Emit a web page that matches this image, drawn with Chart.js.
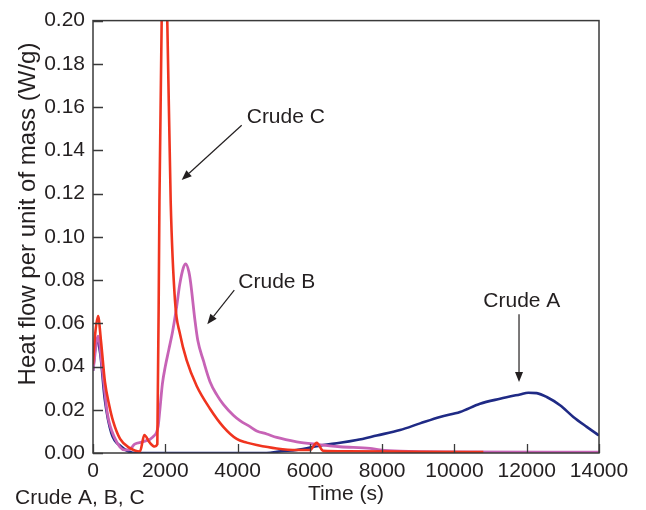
<!DOCTYPE html>
<html>
<head>
<meta charset="utf-8">
<script src="https://cdn.jsdelivr.net/npm/chart.js@4"></script>
<style>
  html, body { margin: 0; padding: 0; background: #fff; }
</style>
</head>
<body>
<canvas id="heat-chart" width="646" height="510"></canvas>
<script>
// Heat flow curves for the three crudes (time in s, heat flow in W/g)
const timeA = [0, 100, 200, 324, 507, 785, 1000, 1200, 4800, 5200, 5637, 6370, 6835, 7296, 7850, 8495, 9048, 9601, 10155, 10708, 11262, 11815, 12045, 12277, 12554, 12922, 13290, 13661, 14000];
const flowA = [0.038, 0.052, 0.046, 0.025, 0.0092, 0.0029, 0.0006, 0, 0, 0.0008, 0.0014, 0.0037, 0.0047, 0.006, 0.0081, 0.0106, 0.0137, 0.0167, 0.019, 0.0228, 0.0251, 0.0271, 0.0279, 0.0277, 0.0259, 0.0221, 0.0167, 0.0121, 0.0081];

const timeB = [0, 140, 250, 400, 600, 876, 1000, 1153, 1383, 1660, 1800, 1850, 1920, 2000, 2100, 2200, 2300, 2400, 2500, 2565, 2650, 2700, 2822, 2900, 3053, 3237, 3422, 3606, 3883, 4067, 4344, 4530, 4806, 5083, 5637, 6190, 6835, 7665, 7941, 8500, 10000, 14000];
const flowB = [0.038, 0.054, 0.04, 0.018, 0.007, 0.0014, 0.0015, 0.0041, 0.0052, 0.0075, 0.0121, 0.02, 0.032, 0.04, 0.048, 0.056, 0.066, 0.078, 0.0857, 0.0875, 0.084, 0.079, 0.0612, 0.052, 0.0428, 0.033, 0.027, 0.0225, 0.0175, 0.015, 0.0122, 0.0102, 0.0088, 0.0072, 0.0052, 0.004, 0.0029, 0.0021, 0.0014, 0.0008, 0.0005, 0.0004];

const timeC = [0, 60, 140, 220, 330, 450, 560, 750, 1000, 1300, 1420, 1560, 1707, 1780, 1838, 1900, 1975, 2055, 2150, 2269, 2407, 2592, 2869, 3237, 3606, 3976, 4253, 4530, 5083, 5637, 6005, 6190, 6370, 7000, 9000, 10800];
const flowC = [0.041, 0.055, 0.0634, 0.052, 0.033, 0.022, 0.0145, 0.0065, 0.0025, 0.0007, 0.0083, 0.005, 0.003, 0.004, 0.116, 0.2, 0.245, 0.2, 0.116, 0.0703, 0.055, 0.0428, 0.031, 0.0205, 0.0121, 0.0065, 0.0048, 0.0037, 0.0021, 0.0014, 0.0014, 0.0047, 0.001, 0.0008, 0.0006, 0.0004];

const xTicks = [0, 2000, 4000, 6000, 8000, 10000, 12000, 14000];
const yTicks = [0, 0.02, 0.04, 0.06, 0.08, 0.10, 0.12, 0.14, 0.16, 0.18, 0.20];

const ink = '#231f20';
const fontFamily = '"Liberation Sans", Arial, Helvetica, sans-serif';

// labels with arrows, placed in data units
const notes = [
    { text: 'Crude C', tx: 4253, ty: 0.1526, from: [4114, 0.1516], to: [2454, 0.1263] },
    { text: 'Crude B', tx: 4020, ty: 0.0765, from: [3909, 0.0753], to: [3162, 0.0596] },
    { text: 'Crude A', tx: 10799, ty: 0.0673, from: [11787, 0.0642], to: [11787, 0.0328] }
];

function toPoints(xs, ys) {
    return xs.map((x, i) => ({ x: x, y: ys[i] }));
}

function arrow(ctx, x1, y1, x2, y2) {
    const ang = Math.atan2(y2 - y1, x2 - x1);
    const len = 10, half = 4;
    const bx = x2 - len * Math.cos(ang), by = y2 - len * Math.sin(ang);
    ctx.beginPath();
    ctx.moveTo(x1, y1);
    ctx.lineTo(bx, by);
    ctx.stroke();
    ctx.beginPath();
    ctx.moveTo(x2, y2);
    ctx.lineTo(bx + half * Math.sin(ang), by - half * Math.cos(ang));
    ctx.lineTo(bx - half * Math.sin(ang), by + half * Math.cos(ang));
    ctx.closePath();
    ctx.fill();
}

// frame, inward tick marks, y title, arrows and the footnote
const framePlugin = {
    id: 'frame',
    afterDatasetsDraw(chart) {
        const ctx = chart.ctx;
        const area = chart.chartArea;
        const xs = chart.scales.x, ys = chart.scales.y;
        ctx.save();
        ctx.strokeStyle = '#3a3a3a';
        ctx.lineWidth = 1.5;
        ctx.strokeRect(area.left, area.top, area.right - area.left, area.bottom - area.top);

        ctx.lineWidth = 1.3;
        ctx.beginPath();
        xs.ticks.forEach(t => {
            const px = Math.round(xs.getPixelForValue(t.value)) + 0.5;
            ctx.moveTo(px, area.bottom);
            ctx.lineTo(px, area.bottom - 9);
        });
        ys.ticks.forEach(t => {
            const py = Math.round(ys.getPixelForValue(t.value)) + 0.5;
            ctx.moveTo(area.left, py);
            ctx.lineTo(area.left + 10, py);
        });
        ctx.stroke();

        ctx.fillStyle = ink;
        ctx.strokeStyle = ink;

        // y axis title sits a little above the middle of the axis
        ctx.save();
        ctx.translate(28, 214);
        ctx.rotate(-Math.PI / 2);
        ctx.font = '24px ' + fontFamily;
        ctx.textAlign = 'center';
        ctx.textBaseline = 'middle';
        ctx.fillText('Heat flow per unit of mass (W/g)', 0, 0);
        ctx.restore();

        ctx.lineWidth = 1.2;
        ctx.font = '21px ' + fontFamily;
        ctx.textBaseline = 'alphabetic';
        ctx.textAlign = 'left';
        notes.forEach(n => {
            ctx.fillText(n.text, xs.getPixelForValue(n.tx), ys.getPixelForValue(n.ty));
            arrow(ctx,
                xs.getPixelForValue(n.from[0]), ys.getPixelForValue(n.from[1]),
                xs.getPixelForValue(n.to[0]), ys.getPixelForValue(n.to[1]));
        });

        ctx.fillText('Crude A, B, C', 15, 504);
        ctx.restore();
    }
};

const ctx = document.querySelector('#heat-chart').getContext('2d');

const heatChart = new Chart(ctx, {
    type: 'line',
    data: {
        datasets: [{
            label: 'Crude C',
            data: toPoints(timeC, flowC),
            borderColor: '#f0341f',
            borderWidth: 2.6,
            order: 0
        }, {
            label: 'Crude B',
            data: toPoints(timeB, flowB),
            borderColor: '#c763b6',
            borderWidth: 2.8,
            order: 1
        }, {
            label: 'Crude A',
            data: toPoints(timeA, flowA),
            borderColor: '#1f2a85',
            borderWidth: 2.6,
            order: 2
        }]
    },
    options: {
        responsive: false,
        animation: false,
        layout: { padding: { top: 18, right: 47, left: 0, bottom: 0 } },
        elements: {
            point: { radius: 0 },
            line: { cubicInterpolationMode: 'monotone', fill: false }
        },
        plugins: {
            legend: { display: false },
            tooltip: { enabled: false }
        },
        scales: {
            x: {
                type: 'linear',
                min: 0,
                max: 14000,
                afterBuildTicks: axis => { axis.ticks = xTicks.map(v => ({ value: v })); },
                afterFit: axis => { axis.height = 57; },
                ticks: {
                    color: ink,
                    font: { family: fontFamily, size: 21 },
                    padding: 6,
                    maxRotation: 0,
                    callback: v => String(v)
                },
                grid: { drawOnChartArea: false, drawTicks: false },
                border: { display: false },
                title: {
                    display: true,
                    text: 'Time (s)',
                    color: ink,
                    font: { family: fontFamily, size: 21 },
                    padding: { top: 0, bottom: 3 }
                }
            },
            y: {
                min: 0,
                max: 0.2,
                afterBuildTicks: axis => { axis.ticks = yTicks.map(v => ({ value: v })); },
                afterFit: axis => { axis.width = 93; },
                ticks: {
                    color: ink,
                    font: { family: fontFamily, size: 21 },
                    padding: 8,
                    callback: v => v.toFixed(2)
                },
                grid: { drawOnChartArea: false, drawTicks: false },
                border: { display: false }
            }
        }
    },
    plugins: [framePlugin]
});
</script>
</body>
</html>
